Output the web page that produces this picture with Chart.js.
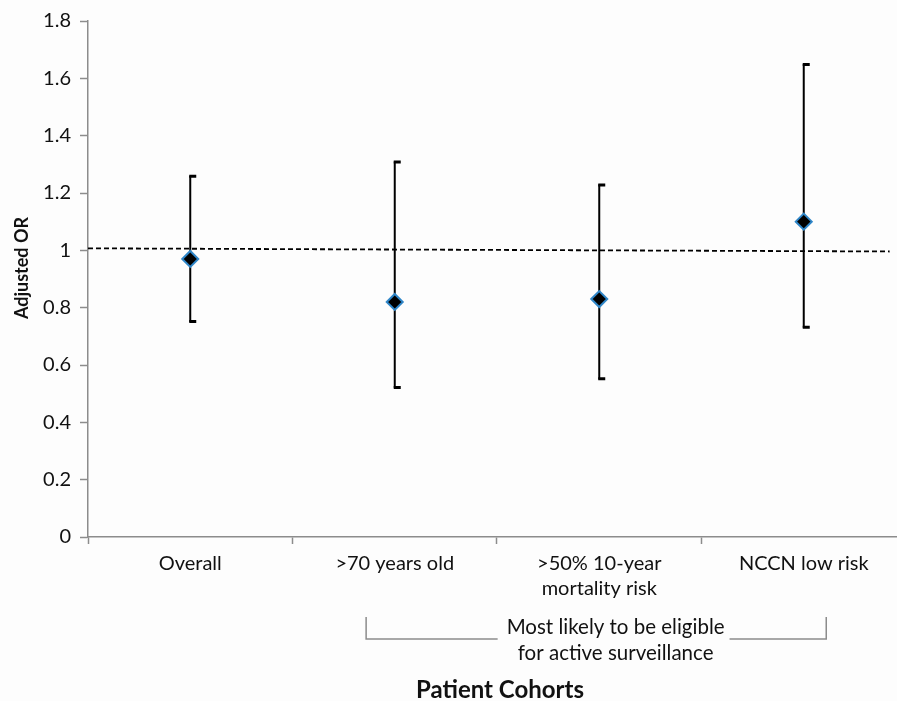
<!DOCTYPE html>
<html>
<head>
<meta charset="utf-8">
<script src="https://cdn.jsdelivr.net/npm/chart.js@4.4.0/dist/chart.umd.min.js"></script>
<style>
    html, body { margin: 0; padding: 0; background: #fdfdfd; }
    #wrap { width: 897px; height: 701px; position: relative; }
</style>
</head>
<body>
<div id="wrap"><canvas id="orChart"></canvas></div>
<script>
// data
const cohorts = ['Overall', '>70 years old', ['>50% 10-year', 'mortality risk'], 'NCCN low risk'];
const oddsRatio = [0.97, 0.82, 0.83, 1.10];
const ciLower = [0.75, 0.52, 0.55, 0.73];
const ciUpper = [1.26, 1.31, 1.23, 1.65];
const refX = [0.5, 4.42];
const refY = [1.007, 0.996];   // dashed line at OR = 1 (a bit tilted in the source)
const yTicks = [0, 0.2, 0.4, 0.6, 0.8, 1, 1.2, 1.4, 1.6, 1.8];
const xTicks = [0.5, 1, 1.5, 2, 2.5, 3, 3.5, 4];
const bracketFrom = 1.86, bracketTo = 4.11, bracketLabelAt = 3.08;
const bracketText = ['Most likely to be eligible', 'for active surveillance'];
const xTitle = 'Patient Cohorts';
const yTitle = 'Adjusted OR';

const AXIS_GREY = '#8c8c8c';
const TEXT = '#111';
const FONT = 'Lato, "Open Sans", sans-serif';

// ==========================================
// error bars (right-hand half caps like the original)
// ==========================================
const errorBars = {
    id: 'errorBars',
    beforeDatasetsDraw(chart) {
        const { ctx, scales: { x, y } } = chart;
        ctx.save();
        ctx.strokeStyle = '#000';
        oddsRatio.forEach((v, i) => {
            const px = x.getPixelForValue(i + 1);
            const top = y.getPixelForValue(ciUpper[i]);
            const bot = y.getPixelForValue(ciLower[i]);
            ctx.lineWidth = 2;
            ctx.beginPath();
            ctx.moveTo(px, top);
            ctx.lineTo(px, bot);
            ctx.stroke();
            ctx.lineWidth = 3;
            ctx.beginPath();
            ctx.moveTo(px - 1, top + 0.5);
            ctx.lineTo(px + 6, top + 0.5);
            ctx.moveTo(px - 1, bot - 0.5);
            ctx.lineTo(px + 6, bot - 0.5);
            ctx.stroke();
        });
        ctx.restore();
    }
};

// ==========================================
// bracket + axis titles
// ==========================================
const annotations = {
    id: 'annotations',
    afterDraw(chart) {
        const { ctx, chartArea, scales: { x } } = chart;
        const x1 = x.getPixelForValue(bracketFrom);
        const x2 = x.getPixelForValue(bracketTo);
        const yTop = chartArea.bottom + 80;
        const yBot = chartArea.bottom + 102;
        const mid = x.getPixelForValue(bracketLabelAt);
        ctx.save();
        ctx.font = '20.5px ' + FONT;
        const w = ctx.measureText(bracketText[0]).width;
        ctx.strokeStyle = AXIS_GREY;
        ctx.lineWidth = 1.5;
        ctx.beginPath();
        ctx.moveTo(x1, yTop);
        ctx.lineTo(x1, yBot);
        ctx.lineTo(mid - w / 2 - 9, yBot);
        ctx.moveTo(mid + w / 2 + 5, yBot);
        ctx.lineTo(x2, yBot);
        ctx.lineTo(x2, yTop);
        ctx.stroke();
        ctx.fillStyle = TEXT;
        ctx.textAlign = 'center';
        ctx.textBaseline = 'middle';
        ctx.fillText(bracketText[0], mid, chartArea.bottom + 90);
        ctx.fillText(bracketText[1], mid, chartArea.bottom + 116);

        // x title centred under the four cohort slots
        ctx.font = 'bold 24px ' + FONT;
        ctx.fillText(xTitle, x.getPixelForValue(2.5) + 3, chartArea.bottom + 153);

        // y title, rotated
        ctx.font = 'bold 18px ' + FONT;
        ctx.translate(22, (chartArea.top + chartArea.bottom) / 2 - 11);
        ctx.rotate(-Math.PI / 2);
        ctx.fillText(yTitle, 0, 0);
        ctx.restore();
    }
};

new Chart(document.getElementById('orChart').getContext('2d'), {
    type: 'scatter',
    data: {
        datasets: [
            {
                label: 'Adjusted OR',
                data: oddsRatio.map((v, i) => ({ x: i + 1, y: v })),
                pointStyle: 'rectRot',
                pointRadius: 8,
                pointHoverRadius: 8,
                backgroundColor: '#000',
                borderColor: '#2f86c8',
                borderWidth: 2,
                order: 0
            },
            {
                type: 'line',
                label: 'OR = 1',
                data: refX.map((v, i) => ({ x: v, y: refY[i] })),
                borderColor: '#000',
                borderWidth: 1.8,
                borderDash: [5, 3],
                pointRadius: 0,
                fill: false,
                order: 1
            }
        ]
    },
    options: {
        responsive: true,
        maintainAspectRatio: false,
        animation: false,
        layout: { autoPadding: false, padding: { top: 19, right: 0, bottom: 0, left: 0 } },
        plugins: {
            legend: { display: false },
            tooltip: { enabled: false }
        },
        scales: {
            x: {
                type: 'linear',
                min: 0.5,
                max: 4.456,
                afterBuildTicks: s => { s.ticks = xTicks.map(v => ({ value: v })); },
                afterFit: s => { s.height = 164; s.paddingLeft = 0; s.paddingRight = 0; },
                border: { color: AXIS_GREY, width: 1.5 },
                grid: {
                    drawOnChartArea: false,
                    tickLength: 7,
                    tickWidth: 1.5,
                    tickColor: c => Number.isInteger(c.tick && c.tick.value) ? 'rgba(0,0,0,0)' : AXIS_GREY
                },
                ticks: {
                    autoSkip: false,
                    maxRotation: 0,
                    padding: 7,
                    color: TEXT,
                    font: { family: FONT, size: 20, lineHeight: 1.25 },
                    callback: v => Number.isInteger(v) ? cohorts[v - 1] : ''
                }
            },
            y: {
                min: 0,
                max: 1.8,
                afterBuildTicks: s => { s.ticks = yTicks.map(v => ({ value: v })); },
                afterFit: s => { s.width = 88; },
                border: { color: AXIS_GREY, width: 1.5 },
                grid: {
                    drawOnChartArea: false,
                    tickLength: 8,
                    tickWidth: 1.5,
                    tickColor: AXIS_GREY
                },
                ticks: {
                    padding: 9,
                    color: TEXT,
                    font: { family: FONT, size: 20 },
                    callback: v => String(v)
                }
            }
        }
    },
    plugins: [errorBars, annotations]
});
</script>
</body>
</html>
